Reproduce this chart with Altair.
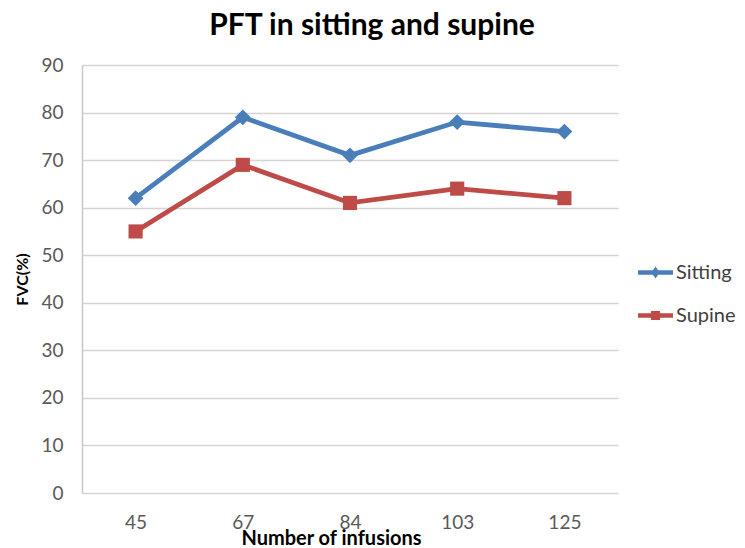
import altair as alt
import pandas as pd

infusions = ["45", "67", "84", "103", "125"]
sitting = [62, 79, 71, 78, 76]
supine = [55, 69, 61, 64, 62]
series_names = ["Sitting", "Supine"]
colors = ["#4A7EBB", "#BE4B48"]
y_ticks = [0, 10, 20, 30, 40, 50, 60, 70, 80, 90]

rows = []
for i, x in enumerate(infusions):
    rows.append({"x": x, "series": "Sitting", "y": sitting[i]})
    rows.append({"x": x, "series": "Supine", "y": supine[i]})
df = pd.DataFrame(rows)

FONT = "Lato"

x_enc = alt.X("x:N", sort=infusions,
              scale=alt.Scale(type="point", padding=0.5),
              axis=alt.Axis(title="Number of infusions", labelAngle=0, ticks=False,
                            domain=False, grid=False, labelPadding=20,
                            labelFontSize=19, labelColor="#595959", labelFont=FONT,
                            titleFont=FONT, titleFontSize=20, titleFontWeight="bold",
                            titleColor="#000000", titleX=249, titleY=35))
y_enc = alt.Y("y:Q", scale=alt.Scale(domain=[0, 90], nice=False),
              axis=alt.Axis(title="FVC(%)", values=y_ticks, ticks=False,
                            domain=True, domainColor="#c8c8c8", domainWidth=1.5,
                            grid=True, gridColor="#d4d4d4", gridWidth=1.5,
                            labelPadding=19, labelFontSize=19, labelColor="#595959",
                            labelFont=FONT, titleFont=FONT, titleFontSize=16,
                            titleFontWeight="bold", titleColor="#000000",
                            titleX=-60, titleY=214, titleAngle=-90,
                            titleBaseline="middle", titleAlign="center"))

color_scale = alt.Scale(domain=series_names, range=colors)

diamond_path = "M-1,-0.13H1V0.13H-1Z M0,-0.34L0.24,0L0,0.34L-0.24,0Z"
square_path = "M-1,-0.13H1V0.13H-1Z M-0.26,-0.26H0.26V0.26H-0.26Z"

legend = alt.Legend(
    title=None, orient="none", legendX=556, legendY=190,
    symbolSize=1225, labelFontSize=20, labelFont=FONT, labelColor="#404040",
    rowPadding=15, labelOffset=3, symbolOpacity=1, symbolStrokeWidth=0)

base = alt.Chart(df)

legend_layer = base.mark_point(filled=True, size=0).encode(
    x=x_enc, y=y_enc,
    color=alt.Color("series:N", scale=color_scale, legend=legend),
    shape=alt.Shape("series:N", scale=alt.Scale(domain=series_names,
                                                range=[diamond_path, square_path]),
                    legend=legend),
)

lines = base.mark_line(strokeWidth=4.8).encode(
    x=x_enc, y=y_enc,
    color=alt.Color("series:N", scale=color_scale, legend=None),
    detail="series:N",
)

pts_sit = base.transform_filter(alt.datum.series == "Sitting").mark_point(
    filled=True, opacity=1, size=250, shape="diamond").encode(
    x=x_enc, y=y_enc,
    color=alt.Color("series:N", scale=color_scale, legend=None),
)
pts_sup = base.transform_filter(alt.datum.series == "Supine").mark_point(
    filled=True, opacity=1, size=200, shape="square").encode(
    x=x_enc, y=y_enc,
    color=alt.Color("series:N", scale=color_scale, legend=None),
)

chart = alt.layer(legend_layer, lines, pts_sit, pts_sup).properties(
    width=536, height=428,
    autosize=alt.AutoSizeParams(type="none"),
    padding={"left": 74, "top": 57, "right": 119, "bottom": 55},
    title=alt.TitleParams("PFT in sitting and supine", font=FONT, fontSize=30,
                          fontWeight="bold", color="#000000", anchor="middle",
                          dx=22, offset=15),
).configure_view(stroke=None)

chart.save("out.html", embed_options={"renderer": "svg", "actions": False})
